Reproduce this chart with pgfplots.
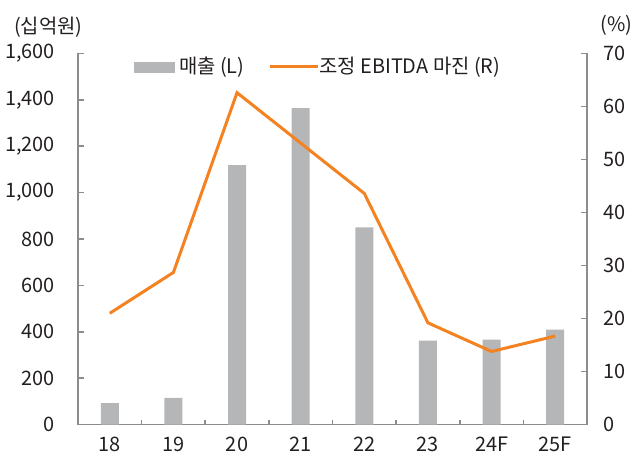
\documentclass[border=0pt]{standalone}
\usepackage{fontspec}
\setmainfont{Noto Sans CJK KR}
\usepackage{pgfplots}
\pgfplotsset{compat=1.18}

\definecolor{barcol}{RGB}{181,182,184}
\definecolor{linecol}{RGB}{245,130,32}
\definecolor{axiscol}{RGB}{140,140,140}
\definecolor{txtcol}{RGB}{35,31,32}

\pgfplotsset{
  base/.style={
    scale only axis,
    width=254.75bp, height=185.75bp,
    xmin=-0.5, xmax=7.5,
    tick align=inside,
    axis line style={draw=axiscol, line width=0.8bp},
    tick style={draw=axiscol, line width=0.8bp},
    major tick length=3bp,
    ticklabel style={font=\fontsize{10}{12}\selectfont, text=txtcol},
    /pgf/number format/assume math mode=true,
  },
}

\begin{document}
\begin{tikzpicture}
  % 매출 (왼쪽 축)
  \begin{axis}[base,
    axis x line*=bottom, axis y line*=left,
    ymin=0, ymax=1600, ytick={0,200,...,1600},
    scaled y ticks=false,
    /pgf/number format/1000 sep={,},
    xtick={0,...,7},
    xticklabels={18,19,20,21,22,23,24F,25F},
    major x tick style={draw=none},
    minor xtick={0.5,1.5,...,6.5},
    minor tick length=2.5bp,
    yticklabel style={xshift=-8bp},
    xticklabel style={yshift=-2.5bp},
  ]
    \addplot[ybar, bar width=9bp, fill=barcol, draw=none] coordinates {
      (0,93) (1,115) (2,1119) (3,1364) (4,850) (5,362) (6,367) (7,410)
    };
  \end{axis}

  % 조정 EBITDA 마진 (오른쪽 축)
  \begin{axis}[base,
    clip=false,
    axis x line=none, axis y line*=right,
    ymin=0, ymax=70, ytick={0,10,...,70},
    yticklabel style={xshift=4.5bp},
    legend style={draw=none, fill=none, inner sep=0pt,
      at={(0,1)}, anchor=west, xshift=28bp, yshift=-6.75bp,
      font=\fontsize{10}{12}\selectfont, text=txtcol,
      legend columns=2,
      /tikz/every even column/.append style={column sep=10bp}},
  ]
    \addlegendimage{legend image code/.code={
      \fill[barcol] (0bp,-2.5bp) rectangle (20bp,2.5bp);}}
    \addlegendentry{매출 (L)}
    \addplot[linecol, line width=1.5bp,
      legend image code/.code={
        \draw[linecol, line width=1.5bp, overlay] (0bp,0bp) -- (24bp,0bp);
        \path (0bp,0bp) -- (22bp,0bp);}]
      coordinates {
      (0,21.0) (1,28.7) (2,62.6) (3,53.1) (4,43.6) (5,19.2) (6,13.8) (7,16.7)
    };
    \addlegendentry{조정 EBITDA 마진 (R)}

    \node[font=\fontsize{10}{12}\selectfont, text=txtcol]
      at ([shift={(-14.75bp,13bp)}]rel axis cs:0,1) {(십억원)};
    \node[anchor=west, font=\fontsize{10}{12}\selectfont, text=txtcol]
      at ([shift={(3.3bp,14.25bp)}]rel axis cs:1,1) {(\%)};
  \end{axis}

  \pgfresetboundingbox
  \path[use as bounding box]
    ([shift={(-39bp,-17bp)}]current axis.south west)
    rectangle ([shift={(24.5bp,26.75bp)}]current axis.north east);
\end{tikzpicture}
\end{document}
